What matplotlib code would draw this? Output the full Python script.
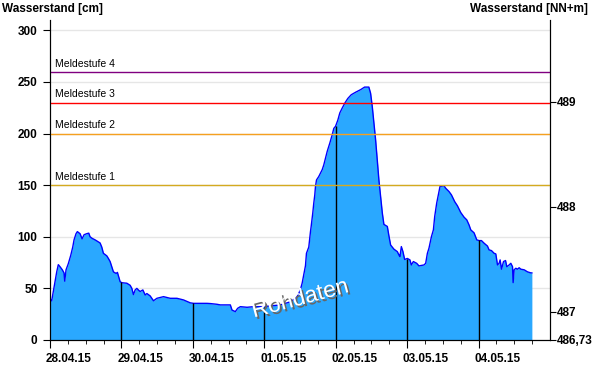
import numpy as np
import matplotlib
matplotlib.use("Agg")
from matplotlib import pyplot as plt
import matplotlib.dates as mdates
import matplotlib.patheffects as pe
from matplotlib.transforms import ScaledTranslation

# hours since 28.04.15 00:00 and water level in cm
hours = [0.0, 0.57, 1.11, 1.68, 2.26, 2.79, 3.37, 4.14, 4.71, 4.95, 5.39, 6.16, 6.97, 7.64,
         8.08, 8.75, 9.19, 10.1, 10.77, 11.45, 12.35, 13.03, 13.46, 14.14, 15.15, 16.83,
         17.4, 17.94, 19.09, 19.62, 20.2, 20.77, 21.31, 22.22, 22.65, 23.12, 23.56, 24.13,
         25.82, 26.93, 27.5, 28.04, 28.61, 29.18, 29.86, 30.29, 31.2, 31.98, 32.55, 33.66,
         34.77, 35.92, 38.14, 40.39, 42.65, 44.87, 47.13, 48.24, 52.75, 53.86, 56.11, 57.22,
         60.59, 61.16, 62.27, 63.05, 63.96, 66.21, 68.43, 71.8, 74.05, 77.42, 80.79, 82.47,
         83.04, 83.58, 84.15, 84.72, 85.26, 85.84, 86.17, 86.95, 87.52, 87.75, 88.29, 88.63,
         88.97, 89.2, 89.54, 90.31, 91.46, 92.0, 92.57, 93.14, 94.02, 94.82, 95.36, 95.94,
         96.71, 97.38, 98.19, 99.06, 100.07, 101.22, 102.67, 104.35, 105.7, 107.14, 107.72,
         108.29, 108.83, 109.4, 109.97, 110.51, 111.08, 111.66, 112.19, 113.34, 113.87,
         114.45, 115.56, 116.7, 117.24, 117.58, 118.05, 118.59, 119.16, 120.07, 120.94,
         121.41, 122.09, 123.2, 123.97, 125.66, 126.23, 126.8, 127.34, 128.15, 128.82,
         129.26, 129.93, 130.37, 131.04, 132.39, 132.96, 134.07, 134.88, 135.99, 136.9,
         138.01, 139.12, 140.03, 140.8, 141.38, 142.49, 143.4, 144.17, 144.97, 145.85,
         146.99, 147.53, 148.34, 149.22, 149.79, 150.36, 150.9, 151.24, 151.71, 152.38,
         153.06, 153.49, 154.27, 154.84, 155.41, 155.61, 155.95, 156.52, 157.09, 157.63,
         158.2, 159.32, 160.46, 161.57, 161.91]
level = [40, 38, 47, 57, 66, 73, 71, 68, 65, 57, 68, 74, 82, 90,
         97, 103, 105, 103, 98, 102, 103, 103.5, 100, 98.5, 97, 94,
         90, 84, 81.5, 79, 76, 71, 66, 64.5, 65.5, 61, 56.5, 55.5,
         55, 53, 50, 44, 48.5, 50, 48, 47, 48.5, 43.6, 45, 42.7,
         38, 40.4, 42, 40.4, 40.4, 38.8, 36, 35.5, 35.5, 35.3, 34.6, 34,
         34, 29, 27.5, 30.7, 32.3, 31.7, 32.3, 32.3, 33, 34, 37, 40.4,
         42, 45, 49, 55, 63, 72, 84, 90, 105, 110, 123, 132.6,
         140.6, 148.7, 155, 158.4, 165, 169.7, 176, 182.7, 190.8, 198.8, 205, 207,
         213, 220, 224.7, 229.5, 234, 237.6, 240, 242.5, 245, 245, 239,
         226, 210, 194, 174.6, 155, 139, 123, 112, 110, 101,
         92, 88, 85.6, 82.4, 80.8, 90.5, 85.6, 78, 79, 77.6,
         72.7, 76, 74.3, 71.8, 72.7, 74.3, 84, 89, 100, 106.7,
         119.6, 132.6, 139, 148.7, 149.4, 147, 143.8, 140.6, 134, 130,
         123.5, 119, 116.4, 111.5, 106.7, 103.8, 97, 96.3, 96.3, 93.8,
         91, 87.3, 86.6, 84, 83.4, 72.7, 74.3, 77.6, 68.6, 76,
         77, 71, 72.7, 74.3, 71, 55.6, 68, 69.5, 68.6, 70,
         68.6, 68, 66, 65, 65]

warn_levels = [150, 200, 230, 260]
warn_labels = ["Meldestufe 1", "Meldestufe 2", "Meldestufe 3", "Meldestufe 4"]
warn_colors = ["#d4aa20", "#f5a020", "#ff0000", "#800080"]

right_ticks = [486.73, 487, 488, 489]
right_labels = ["486,73", "487", "488", "489"]

start = np.datetime64("2015-04-28T00:00")
t = start + (np.array(hours) * 3600).astype("timedelta64[s]")
day_hours = np.arange(24, 145, 24)
day_t = start + (day_hours * 3600).astype("timedelta64[s]")
day_vals = np.interp(day_hours, hours, level)

plt.rcParams["font.family"] = ["Liberation Sans", "DejaVu Sans"]

fig = plt.figure(figsize=(6, 3.84), dpi=100)
ax = fig.add_axes([50 / 600, 44 / 384, 500 / 600, 320 / 384])

ax.set_ylim(0, 310)
ax.set_xlim(start, start + np.timedelta64(7, "D"))
ax.set_yticks(range(0, 301, 50))
ax.grid(axis="y", color="#e6e6e6", lw=1, zorder=0)
ax.set_axisbelow(True)

ax.fill_between(t, level, 0, color="#2aa8ff", lw=0, zorder=2)
ax.plot(t, level, color="#0000ff", lw=1, zorder=3)
ax.vlines(day_t, 0, day_vals, color="black", lw=1, zorder=4)

for lv, lab, col in zip(warn_levels, warn_labels, warn_colors):
    ax.axhline(lv, color=col, lw=1, zorder=5)
    ax.text(start + np.timedelta64(100, "m"), lv + 3, lab, fontsize=7.5,
            color="black", va="bottom", ha="left", zorder=6)

ax.text(0.5, 0.13, "Rohdaten", transform=ax.transAxes, fontsize=16.5, rotation=15,
        color="white", ha="center", va="center", zorder=7,
        path_effects=[pe.withSimplePatchShadow(offset=(1.5, -1.5), shadow_rgbFace="#666666", alpha=1)])

ax.xaxis.set_major_formatter(mdates.DateFormatter("%d.%m.%y"))
ax.xaxis.set_minor_locator(mdates.HourLocator(byhour=[6, 12, 18]))
ax.set_xticks([start] + day_t.tolist())
ax.tick_params(axis="x", which="major", length=6, labelsize=8.5, pad=3)
ax.tick_params(axis="x", which="minor", length=3)
ax.tick_params(axis="y", length=5, labelsize=8.5, pad=4)
shift = ScaledTranslation(-3 / 72, 0, fig.dpi_scale_trans)
for lab in ax.get_xticklabels():
    lab.set_horizontalalignment("left")
    lab.set_transform(lab.get_transform() + shift)
for lab in ax.get_xticklabels() + ax.get_yticklabels():
    lab.set_fontweight("bold")

ax.spines["top"].set_visible(False)

ax2 = ax.twinx()
ax2.set_ylim(486.73, 486.73 + 3.048)
ax2.set_yticks(right_ticks)
ax2.set_yticklabels(right_labels, fontweight="bold")
ax2.tick_params(axis="y", length=4, labelsize=8.5, pad=1)
ax2.spines["top"].set_visible(False)

fig.text(2 / 600, 1 - 9 / 384, "Wasserstand [cm]", fontsize=8.5, fontweight="bold",
         ha="left", va="center")
fig.text(588 / 600, 1 - 9 / 384, "Wasserstand [NN+m]", fontsize=8.5, fontweight="bold",
         ha="right", va="center")

fig.savefig("out.png", dpi=100)
